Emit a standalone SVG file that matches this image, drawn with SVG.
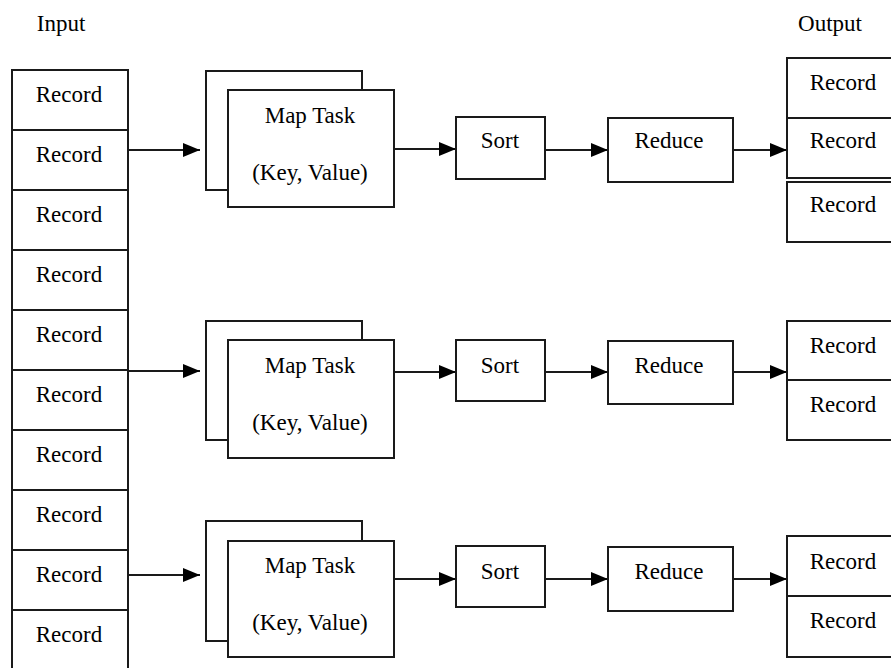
<svg xmlns="http://www.w3.org/2000/svg" width="891" height="668" viewBox="0 0 891 668">
  <style>
    .box { fill: #ffffff; stroke: #1a1a1a; stroke-width: 2; }
    .t { font-family: "Liberation Serif", "Times New Roman", serif; font-size: 23px; fill: #000000; text-anchor: middle; }
    .conn { stroke: #1a1a1a; stroke-width: 2; fill: none; marker-end: url(#arrow); }
  </style>
  <defs>
    <marker id="arrow" markerUnits="userSpaceOnUse" markerWidth="17" markerHeight="14" refX="17" refY="7" orient="auto">
      <path d="M0,0 L17,7 L0,14 z" fill="#000000"/>
    </marker>
  </defs>
  <rect width="891" height="668" fill="#ffffff"/>

  <g id="connectors">
    <line class="conn" x1="128" y1="150" x2="200" y2="150"/>
    <line class="conn" x1="394" y1="149" x2="456" y2="149"/>
    <line class="conn" x1="545" y1="150" x2="608" y2="150"/>
    <line class="conn" x1="733" y1="150" x2="787" y2="150"/>

    <line class="conn" x1="128" y1="371" x2="200" y2="371"/>
    <line class="conn" x1="394" y1="372" x2="456" y2="372"/>
    <line class="conn" x1="545" y1="372" x2="608" y2="372"/>
    <line class="conn" x1="733" y1="372" x2="787" y2="372"/>

    <line class="conn" x1="128" y1="575" x2="200" y2="575"/>
    <line class="conn" x1="394" y1="579" x2="456" y2="579"/>
    <line class="conn" x1="545" y1="579" x2="608" y2="579"/>
    <line class="conn" x1="733" y1="579" x2="787" y2="579"/>
  </g>

  <g id="input-label"><text class="t" x="61" y="31">Input</text></g>
  <g id="output-label"><text class="t" x="830" y="31">Output</text></g>

  <g id="input">
    <rect class="box" x="12" y="70" width="116" height="60"/><text class="t" x="69" y="102">Record</text>
    <rect class="box" x="12" y="130" width="116" height="60"/><text class="t" x="69" y="162">Record</text>
    <rect class="box" x="12" y="190" width="116" height="60"/><text class="t" x="69" y="222">Record</text>
    <rect class="box" x="12" y="250" width="116" height="60"/><text class="t" x="69" y="282">Record</text>
    <rect class="box" x="12" y="310" width="116" height="60"/><text class="t" x="69" y="342">Record</text>
    <rect class="box" x="12" y="370" width="116" height="60"/><text class="t" x="69" y="402">Record</text>
    <rect class="box" x="12" y="430" width="116" height="60"/><text class="t" x="69" y="462">Record</text>
    <rect class="box" x="12" y="490" width="116" height="60"/><text class="t" x="69" y="522">Record</text>
    <rect class="box" x="12" y="550" width="116" height="60"/><text class="t" x="69" y="582">Record</text>
    <rect class="box" x="12" y="610" width="116" height="60"/><text class="t" x="69" y="642">Record</text>
  </g>

  <g id="map1">
    <rect class="box" x="206" y="71" width="156" height="119"/>
    <rect class="box" x="228" y="90" width="166" height="117"/>
    <text class="t" x="310" y="123">Map Task</text>
    <text class="t" x="310" y="180">(Key, Value)</text>
  </g>
  <g id="map2">
    <rect class="box" x="206" y="321" width="156" height="119"/>
    <rect class="box" x="228" y="340" width="166" height="118"/>
    <text class="t" x="310" y="373">Map Task</text>
    <text class="t" x="310" y="430">(Key, Value)</text>
  </g>
  <g id="map3">
    <rect class="box" x="206" y="521" width="156" height="120"/>
    <rect class="box" x="228" y="541" width="166" height="116"/>
    <text class="t" x="310" y="573">Map Task</text>
    <text class="t" x="310" y="630">(Key, Value)</text>
  </g>

  <g id="sort1"><rect class="box" x="456" y="117" width="89" height="62"/><text class="t" x="500" y="148">Sort</text></g>
  <g id="sort2"><rect class="box" x="456" y="340" width="89" height="61"/><text class="t" x="500" y="373">Sort</text></g>
  <g id="sort3"><rect class="box" x="456" y="546" width="89" height="61"/><text class="t" x="500" y="579">Sort</text></g>

  <g id="reduce1"><rect class="box" x="608" y="118" width="125" height="64"/><text class="t" x="669" y="148">Reduce</text></g>
  <g id="reduce2"><rect class="box" x="608" y="341" width="125" height="63"/><text class="t" x="669" y="373">Reduce</text></g>
  <g id="reduce3"><rect class="box" x="608" y="547" width="125" height="64"/><text class="t" x="669" y="579">Reduce</text></g>

  <g id="output1">
    <rect class="box" x="787" y="58" width="130" height="60"/><text class="t" x="843" y="90">Record</text>
    <rect class="box" x="787" y="118" width="130" height="60"/><text class="t" x="843" y="148">Record</text>
    <rect class="box" x="787" y="182" width="130" height="60"/><text class="t" x="843" y="212">Record</text>
  </g>
  <g id="output2">
    <rect class="box" x="787" y="321" width="130" height="59"/><text class="t" x="843" y="353">Record</text>
    <rect class="box" x="787" y="380" width="130" height="60"/><text class="t" x="843" y="412">Record</text>
  </g>
  <g id="output3">
    <rect class="box" x="787" y="536" width="130" height="60"/><text class="t" x="843" y="569">Record</text>
    <rect class="box" x="787" y="596" width="130" height="61"/><text class="t" x="843" y="628">Record</text>
  </g>
</svg>
